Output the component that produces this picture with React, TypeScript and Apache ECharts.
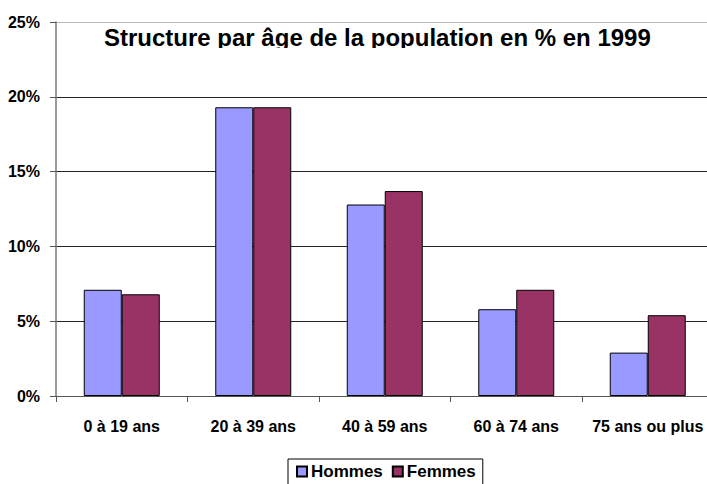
import React, { useEffect, useRef } from "react";
import * as echarts from "echarts";

const categories = ["0 à 19 ans", "20 à 39 ans", "40 à 59 ans", "60 à 74 ans", "75 ans ou plus"];
const hommes = [7.1, 19.3, 12.8, 5.8, 2.9];
const femmes = [6.8, 19.3, 13.7, 7.1, 5.4];
const seriesNames = ["Hommes", "Femmes"];
const titleText = "Structure par âge de la population en % en 1999";

const FONT = "'Liberation Sans', Arial, sans-serif";

export default function App() {
  const ref = useRef<HTMLDivElement>(null);
  useEffect(() => {
    document.body.style.margin = "0";
    const chart = echarts.init(ref.current!, null, { renderer: "svg" });
    chart.setOption({
      animation: false,
      backgroundColor: "#fff",
      title: {
        text: titleText,
        left: 104,
        top: 25,
        padding: 0,
        textStyle: { fontFamily: FONT, fontWeight: "bold", fontSize: 24, color: "#000" },
      },
      graphic: [
        { type: "rect", shape: { x: 95, y: 48, width: 580, height: 12 }, style: { fill: "#fff" }, z: 100 },
      ],
      legend: {
        data: seriesNames,
        left: 288,
        top: 459,
        padding: [4, 7, 10, 8],
        itemGap: 9,
        itemWidth: 10,
        itemHeight: 10,
        borderColor: "#000",
        borderWidth: 1,
        icon: "rect",
        textStyle: { fontFamily: FONT, fontWeight: "bold", fontSize: 17, color: "#000", padding: [0, 0, 0, -1] },
      },
      grid: { left: 56, top: 22, width: 657.5, height: 374, containLabel: false },
      xAxis: {
        type: "category",
        data: categories,
        axisLine: { lineStyle: { color: "#555", width: 1 } },
        axisTick: { show: true, length: 6, lineStyle: { color: "#555" } },
        axisLabel: { interval: 0, fontFamily: FONT, fontWeight: "bold", fontSize: 16, color: "#000", margin: 22 },
      },
      yAxis: {
        type: "value",
        min: 0,
        max: 25,
        interval: 5,
        axisLine: { show: true, lineStyle: { color: "#777", width: 1.5 } },
        axisTick: { show: true, length: 6, lineStyle: { color: "#555" } },
        axisLabel: {
          fontFamily: FONT,
          fontWeight: "bold",
          fontSize: 16,
          color: "#000",
          margin: 16,
          formatter: (v: number) => v + "%",
        },
        splitLine: {
          show: true,
          lineStyle: { color: ["#222", "#222", "#222", "#222", "#222", "#bbb"], width: 1 },
        },
      },
      series: [
        {
          name: seriesNames[0],
          type: "bar",
          data: hommes,
          barWidth: 38,
          barGap: "0%",
          itemStyle: { color: "#9999FF", borderColor: "#000", borderWidth: 1 },
        },
        {
          name: seriesNames[1],
          type: "bar",
          data: femmes,
          barWidth: 38,
          barGap: "0%",
          itemStyle: { color: "#993366", borderColor: "#000", borderWidth: 1 },
        },
      ],
    });
    return () => chart.dispose();
  }, []);
  return (
    <div style={{ width: 707, height: 484, overflow: "hidden" }}>
      <div ref={ref} style={{ width: 720, height: 484 }} />
    </div>
  );
}
